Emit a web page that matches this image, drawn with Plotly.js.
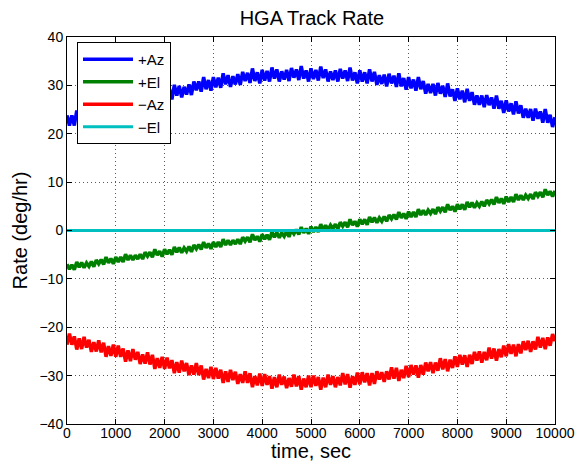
<!DOCTYPE html>
<html>
<head>
<meta charset="utf-8">
<script src="https://cdn.plot.ly/plotly-3.0.1.min.js"></script>
<style>html,body{margin:0;padding:0;background:#fff;}#chart{width:583px;height:462px;}</style>
</head>
<body>
<div id="chart"></div>
<script>
// sampling interval of the recorded series (sec)
const sampleStep = 50;

const seriesNames = ["+Az", "+El", "\u2212Az", "\u2212El"];

// +Az track rate (deg/hr), one value per 50 s, 0..10000 s
const plusAz = [
 23.8,21.7,23.8,21.7,24.8,22.5,24.5,22.2,24.4,22.8,
 24.9,22.8,25.6,23.8,25.6,23.6,26.6,24.2,26.0,23.9,
 26.7,24.6,26.7,24.6,27.6,25.4,27.4,25.0,27.2,25.6,
 27.7,25.5,28.3,26.5,28.3,26.2,29.2,26.7,28.6,26.4,
 29.2,27.1,29.2,27.1,30.1,27.9,29.9,27.5,29.7,28.1,
 30.2,28.0,30.8,29.0,30.8,28.7,31.7,29.2,31.1,28.9,
 31.7,29.6,31.6,29.5,32.5,30.2,32.1,29.7,31.9,30.2,
 32.3,30.1,32.8,30.9,32.6,30.5,33.5,30.9,32.7,30.4,
 33.2,31.0,33.0,30.8,33.7,31.4,33.3,30.8,32.9,31.2,
 33.2,30.9,33.6,31.6,33.3,31.1,34.0,31.4,33.1,30.8,
 33.5,31.3,33.2,31.0,33.9,31.5,33.3,30.8,32.9,31.1,
 33.1,30.8,33.4,31.4,33.1,30.9,33.7,31.0,32.7,30.4,
 33.1,30.8,32.7,30.4,33.3,30.8,32.8,30.1,32.1,30.3,
 32.2,29.8,32.4,30.4,32.0,29.7,32.5,29.8,31.5,29.1,
 31.7,29.4,31.2,28.9,31.7,29.2,30.9,28.3,30.3,28.4,
 30.3,27.9,30.5,28.3,29.9,27.6,30.4,27.7,29.2,26.8,
 29.4,27.1,28.9,26.5,29.3,26.8,28.6,26.0,27.9,26.0,
 27.9,25.5,28.0,25.9,27.5,25.2,27.9,25.2,26.8,24.3,
 26.9,24.6,26.3,24.0,26.7,24.2,25.9,23.3,25.2,23.3,
 25.1,22.7,25.2,23.1,24.6,22.3,25.1,22.3,23.9,21.4,
 23.4
];

// +El track rate (deg/hr)
const plusEl = [
 -7.0,-8.0,-7.1,-8.1,-6.5,-7.6,-6.6,-7.7,-6.7,-7.4,
 -6.4,-7.5,-6.1,-6.9,-6.0,-7.0,-5.5,-6.7,-5.8,-6.9,
 -5.5,-6.5,-5.5,-6.5,-4.9,-6.1,-5.1,-6.1,-5.1,-5.9,
 -4.9,-5.9,-4.5,-5.3,-4.5,-5.5,-3.9,-5.1,-4.3,-5.4,
 -3.9,-4.9,-4.0,-5.0,-3.4,-4.5,-3.5,-4.6,-3.6,-4.3,
 -3.3,-4.4,-3.0,-3.8,-2.9,-3.9,-2.4,-3.6,-2.7,-3.8,
 -2.4,-3.4,-2.4,-3.4,-1.8,-3.0,-2.0,-3.0,-2.0,-2.8,
 -1.8,-2.8,-1.4,-2.2,-1.4,-2.4,-0.8,-2.0,-1.2,-2.3,
 -0.8,-1.8,-0.9,-1.9,-0.3,-1.4,-0.4,-1.5,-0.5,-1.2,
 -0.2,-1.3,0.1,-0.7,0.2,-0.8,0.7,-0.5,0.4,-0.7,
 0.8,-0.3,0.7,-0.3,1.3,0.1,1.1,0.1,1.1,0.4,
 1.3,0.3,1.7,0.9,1.7,0.7,2.3,1.1,1.9,0.8,
 2.3,1.3,2.3,1.2,2.8,1.7,2.7,1.6,2.6,1.9,
 2.9,1.9,3.2,2.4,3.3,2.3,3.8,2.6,3.5,2.4,
 3.9,2.8,3.8,2.8,4.4,3.2,4.2,3.2,4.2,3.5,
 4.4,3.4,4.8,4.0,4.8,3.8,5.4,4.2,5.0,3.9,
 5.4,4.4,5.4,4.3,5.9,4.8,5.8,4.7,5.7,5.0,
 6.0,5.0,6.3,5.5,6.4,5.4,6.9,5.7,6.6,5.5,
 7.0,5.9,6.9,5.9,7.5,6.3,7.3,6.3,7.3,6.6,
 7.5,6.5,7.9,7.1,7.9,6.9,8.5,7.3,8.1,7.0,
 8.2
];

// -Az track rate (deg/hr)
const minusAz = [
 -23.6,-21.3,-23.6,-21.9,-24.6,-22.3,-24.5,-22.0,-24.2,-22.6,
 -25.1,-23.1,-25.0,-22.7,-25.2,-23.2,-26.1,-23.9,-25.9,-23.6,
 -26.1,-23.8,-26.1,-24.4,-27.1,-24.8,-27.0,-24.5,-26.7,-25.1,
 -27.6,-25.6,-27.5,-25.2,-27.7,-25.7,-28.6,-26.4,-28.4,-26.1,
 -28.6,-26.3,-28.5,-26.8,-29.5,-27.2,-29.4,-26.9,-29.1,-27.4,
 -29.9,-27.9,-29.8,-27.4,-29.9,-27.9,-30.8,-28.6,-30.5,-28.2,
 -30.7,-28.4,-30.6,-28.8,-31.5,-29.1,-31.3,-28.8,-30.9,-29.2,
 -31.7,-29.7,-31.5,-29.1,-31.5,-29.5,-32.4,-30.1,-32.0,-29.6,
 -32.1,-29.7,-31.9,-30.1,-32.7,-30.3,-32.4,-29.8,-31.9,-30.2,
 -32.6,-30.5,-32.3,-29.8,-32.2,-30.1,-32.9,-30.6,-32.4,-30.0,
 -32.4,-30.0,-32.1,-30.3,-32.9,-30.4,-32.4,-29.8,-31.9,-30.1,
 -32.4,-30.3,-32.0,-29.5,-31.8,-29.7,-32.5,-30.1,-31.9,-29.4,
 -31.8,-29.3,-31.4,-29.5,-32.0,-29.5,-31.7,-29.1,-30.8,-29.3,
 -31.3,-29.1,-30.8,-28.3,-30.6,-28.4,-31.1,-28.8,-30.5,-28.0,
 -30.3,-27.8,-29.8,-27.9,-30.4,-27.8,-29.8,-27.3,-29.1,-27.2,
 -29.5,-27.3,-29.0,-26.4,-28.7,-26.6,-29.1,-26.7,-28.4,-26.0,
 -28.2,-25.7,-27.7,-25.8,-28.2,-25.7,-27.6,-25.1,-26.9,-25.0,
 -27.3,-25.1,-26.8,-24.2,-26.5,-24.4,-26.9,-24.5,-26.2,-23.8,
 -26.0,-23.5,-25.5,-23.6,-26.0,-23.5,-25.4,-22.9,-24.7,-22.8,
 -25.1,-22.9,-24.6,-22.0,-24.2,-22.2,-24.5,-22.1,-23.8,-21.4,
 -22.9
];

// -El track rate (deg/hr): held at zero over the whole pass
const minusElTime = [0, 10000];
const minusEl = [0, 0];

const time = plusAz.map((_, i) => i * sampleStep);

const colors = ["#0000FF", "#008000", "#FF0000", "#00BFBF"];

const traces = [
  {x: time, y: plusAz, name: seriesNames[0], mode: "lines", line: {color: colors[0], width: 3.5, simplify: false}},
  {x: time, y: plusEl, name: seriesNames[1], mode: "lines", line: {color: colors[1], width: 3.5, simplify: false}},
  {x: time, y: minusAz, name: seriesNames[2], mode: "lines", line: {color: colors[2], width: 3.5, simplify: false}},
  {x: minusElTime, y: minusEl, name: seriesNames[3], mode: "lines", line: {color: colors[3], width: 3}}
];

const fontFam = "'Liberation Sans', Arial, Helvetica, sans-serif";
const axisCommon = {
  showline: true, linecolor: "#000", linewidth: 1, mirror: "allticks",
  ticks: "inside", ticklen: 5, tickcolor: "#000", tickwidth: 1,
  showgrid: true, gridcolor: "rgba(0,0,0,0.65)", gridwidth: 1, griddash: "1px,3px",
  zeroline: false, tickfont: {family: fontFam, size: 14, color: "#000"}
};

const layout = {
  width: 583, height: 462,
  margin: {l: 67, r: 28, t: 37, b: 38},
  paper_bgcolor: "#fff", plot_bgcolor: "#fff",
  font: {family: fontFam, color: "#000"},
  title: {text: "HGA Track Rate", font: {family: fontFam, size: 20, color: "#000"}, x: 0.535, xanchor: "center", y: 0.962, yanchor: "middle"},
  xaxis: Object.assign({}, axisCommon, {
    range: [0, 10000], tickvals: [0,1000,2000,3000,4000,5000,6000,7000,8000,9000,10000],
    ticktext: ["0","1000","2000","3000","4000","5000","6000","7000","8000","9000","10000"],
    ticklabelstandoff: -4,
    title: {text: "time, sec", font: {family: fontFam, size: 20, color: "#000"}, standoff: 1}
  }),
  yaxis: Object.assign({}, axisCommon, {
    range: [-40, 40], dtick: 10,
    title: {text: "Rate (deg/hr)", font: {family: fontFam, size: 20, color: "#000"}, standoff: 6}
  }),
  showlegend: true,
  legend: {
    x: 0.0205, y: 0.987, xanchor: "left", yanchor: "top",
    bgcolor: "#fff", bordercolor: "#000", borderwidth: 1, itemwidth: 50,
    font: {family: fontFam, size: 15, color: "#000"}
  }
};

Plotly.newPlot("chart", traces, layout, {displayModeBar: false, staticPlot: true});
</script>
</body>
</html>
